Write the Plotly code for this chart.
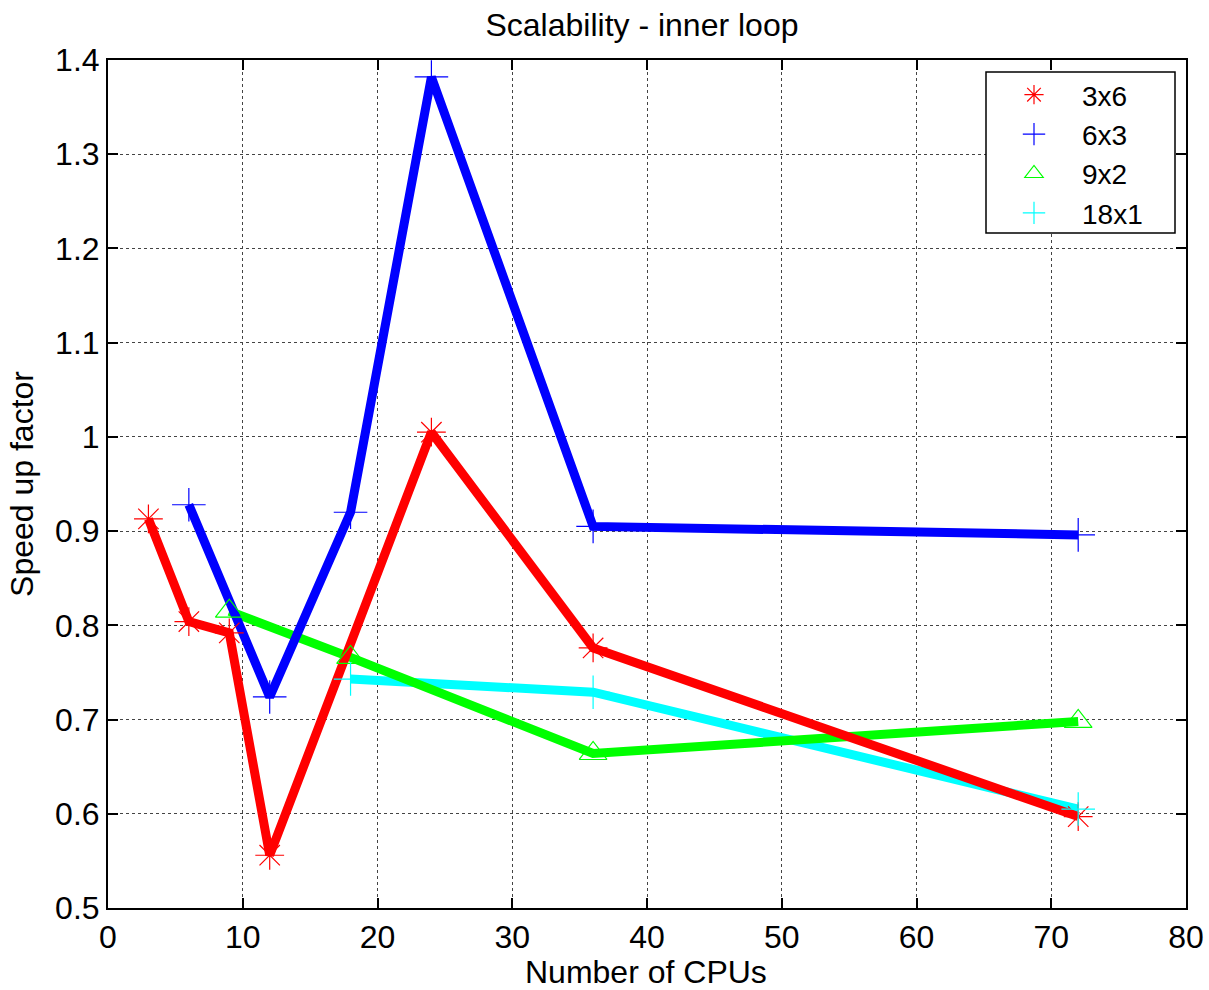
import plotly.graph_objects as go

x_3x6 = [3, 6, 9, 12, 24, 36, 72]
y_3x6 = [0.913, 0.804, 0.792, 0.556, 1.005, 0.776, 0.597]
x_6x3 = [6, 12, 18, 24, 36, 72]
y_6x3 = [0.928, 0.724, 0.920, 1.382, 0.905, 0.896]
x_9x2 = [9, 18, 36, 72]
y_9x2 = [0.815, 0.766, 0.664, 0.698]
x_18x1 = [18, 36, 72]
y_18x1 = [0.743, 0.729, 0.605]

names = ["3x6", "6x3", "9x2", "18x1"]
xs = [x_3x6, x_6x3, x_9x2, x_18x1]
ys = [y_3x6, y_6x3, y_9x2, y_18x1]
colors = ["#ff0000", "#0000ff", "#00ff00", "#00ffff"]
symbols = ["asterisk-open", "cross-thin-open", "triangle-up-open", "cross-thin-open"]

W, H = 1209, 990
ML, MR, MT, MB = 108, 23, 60, 82
PW, PH = W - ML - MR, H - MT - MB


def px(xpix):
    return (xpix - ML) / PW


def py(ypix):
    return (H - MB - ypix) / PH


fig = go.Figure()
# lines (drawn so that red ends on top)
for i in [3, 2, 1, 0]:
    fig.add_trace(go.Scatter(x=xs[i], y=ys[i], mode="lines",
                             line=dict(color=colors[i], width=9),
                             showlegend=False, hoverinfo="skip"))
for n, x, y, c, s in zip(names, xs, ys, colors, symbols):
    fig.add_trace(go.Scatter(x=x, y=y, mode="markers", name=n,
                             marker=dict(symbol=s, size=24, color=c,
                                         line=dict(color=c, width=1.2))))

font = "Liberation Sans, Arial, sans-serif"
FS = 32
axis_common = dict(showline=True, mirror="ticks", linecolor="black", linewidth=2,
                   ticks="inside", ticklen=10, tickwidth=2, tickcolor="black",
                   showgrid=True, gridcolor="#444444", griddash="dot", gridwidth=1,
                   zeroline=False, automargin=False, ticklabeloverflow="allow",
                   tickfont=dict(size=FS, color="black", family=font))

fig.update_layout(
    width=W, height=H,
    paper_bgcolor="white", plot_bgcolor="white",
    margin=dict(l=ML, r=MR, t=MT, b=MB),
    title=dict(text="Scalability - inner loop", x=0.531, xanchor="center",
               y=0.975, yanchor="middle", font=dict(size=FS, color="black", family=font)),
    xaxis=dict(range=[0, 80], dtick=10, **axis_common),
    yaxis=dict(range=[0.5, 1.4], dtick=0.1,
               title=dict(text="Speed up factor", standoff=12,
                          font=dict(size=FS, color="black", family=font)), **axis_common),
    legend=dict(x=px(986), xanchor="left", y=py(70), yanchor="top",
                bgcolor="rgba(0,0,0,0)", borderwidth=0,
                font=dict(size=28, color="black", family=font), itemwidth=86,
                tracegroupgap=0),
    shapes=[dict(type="rect", xref="paper", yref="paper",
                 x0=px(986), x1=px(1175), y0=py(233), y1=py(72),
                 fillcolor="white", line=dict(color="black", width=1.5), layer="above")],
    annotations=[dict(text="Number of CPUs", xref="paper", yref="paper",
                      x=px(646), y=py(972), xanchor="center", yanchor="middle",
                      showarrow=False, font=dict(size=FS, color="black", family=font))],
    font=dict(family=font),
)

fig.write_html("out.html", config={"displayModeBar": False},
               post_script="document.body.style.margin='0';")
